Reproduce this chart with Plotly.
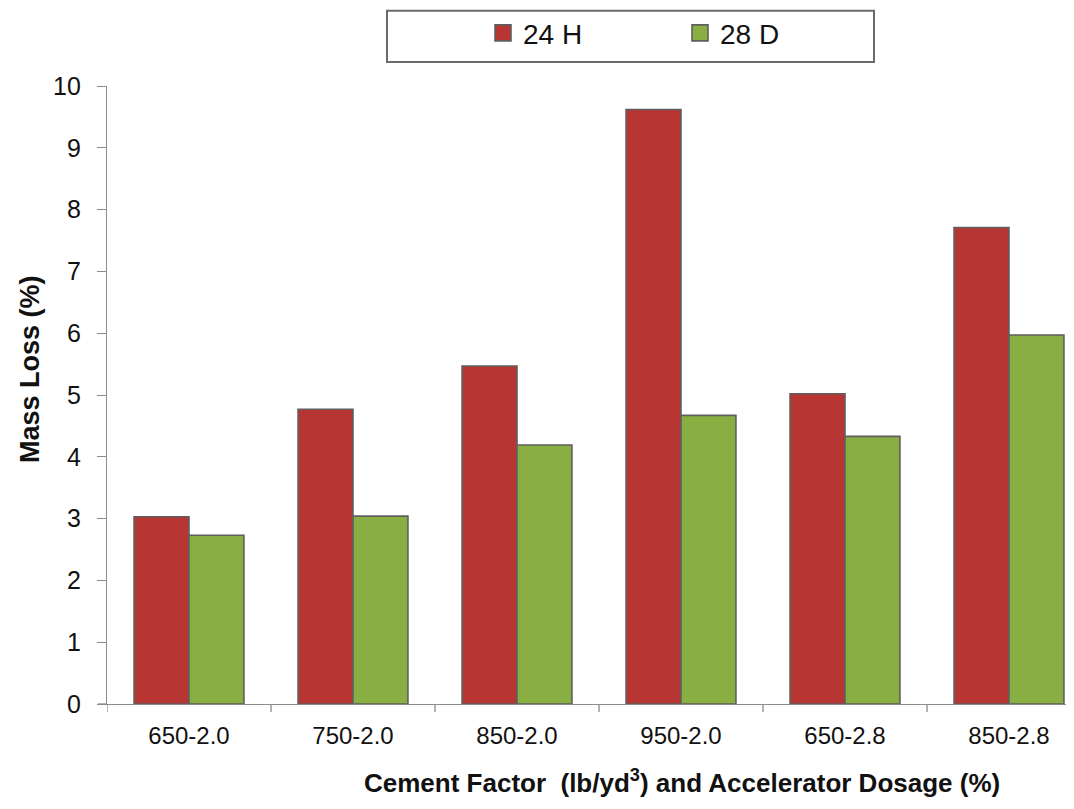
import plotly.graph_objects as go

categories = ["650-2.0", "750-2.0", "850-2.0", "950-2.0", "650-2.8", "850-2.8"]
series_names = ["24 H", "28 D"]
values_24h = [3.03, 4.77, 5.47, 9.62, 5.02, 7.71]
values_28d = [2.73, 3.04, 4.19, 4.67, 4.33, 5.97]
y_ticks = [0, 1, 2, 3, 4, 5, 6, 7, 8, 9, 10]

RED = "#B73533"
GREEN = "#89AE41"
EDGE = "#5f5f5f"
AXIS = "#8c8c8c"

# page body has an 8px margin, so the figure is drawn 8px in from the window corner
OFF = 8
W, H = 1066, 793
ML, MR, MT, MB = 99, 0, 76, 97
pw = W - ML - MR
ph = H - MT - MB

FONT = "Liberation Sans Narrow, Arial Narrow, Liberation Sans, Arial, sans-serif"

def fx(screen_px):
    return (screen_px - OFF - ML) / pw

def fy(screen_py):
    return 1 - (screen_py - OFF - MT) / ph

fig = go.Figure()
fig.add_trace(go.Bar(
    x=categories, y=values_24h, name=series_names[0], showlegend=False,
    marker=dict(color=RED, line=dict(color=EDGE, width=1.6)),
))
fig.add_trace(go.Bar(
    x=categories, y=values_28d, name=series_names[1], showlegend=False,
    marker=dict(color=GREEN, line=dict(color=EDGE, width=1.6)),
))
# legend-only entries (bigger square swatches like the reference)
for nm, col in zip(series_names, [RED, GREEN]):
    fig.add_trace(go.Scatter(
        x=[None], y=[None], mode="markers", name=nm,
        marker=dict(symbol="square", size=16, color=col, line=dict(color=EDGE, width=1.6)),
    ))

band = 164.0
x_range = [-0.5, -0.5 + pw / band]

fig.update_layout(
    width=W, height=H,
    margin=dict(l=ML, r=MR, t=MT, b=MB),
    paper_bgcolor="white", plot_bgcolor="white",
    barmode="group", bargap=0.33, bargroupgap=0.0,
    font=dict(family=FONT, color="#111111"),
    showlegend=True,
    legend=dict(
        orientation="h", x=fx(483), xanchor="left",
        y=fy(31), yanchor="middle",
        font=dict(size=28, family=FONT, color="#111111"),
        entrywidth=152, entrywidthmode="pixels",
        itemsizing="trace",
        bgcolor="rgba(0,0,0,0)", borderwidth=0,
        traceorder="normal",
    ),
    xaxis=dict(
        type="category", categoryorder="array", categoryarray=categories,
        range=x_range, showline=True, linecolor=AXIS, linewidth=1.3,
        ticks="", showgrid=False, zeroline=False,
        tickfont=dict(size=24, family=FONT, color="#111111"),
        ticklabelstandoff=10,
    ),
    yaxis=dict(
        range=[0, 10], tickvals=y_ticks, showline=True, linecolor=AXIS,
        linewidth=1.3, ticks="outside", ticklen=9, tickcolor=AXIS,
        showgrid=False, zeroline=False,
        tickfont=dict(size=25, family=FONT, color="#111111"),
        ticklabelstandoff=11,
    ),
)

# band separator ticks below the x axis
for i in range(len(categories)):
    fig.add_shape(type="line", xref="x", yref="paper",
                  x0=i - 0.5, x1=i - 0.5, y0=0, y1=-8 / ph,
                  line=dict(color=AXIS, width=1.3))
# short stub of the x axis to the left of the y axis
fig.add_shape(type="line", xref="paper", yref="paper",
              x0=fx(98), x1=0, y0=0, y1=0,
              line=dict(color=AXIS, width=1.3))

# legend frame
fig.add_shape(type="rect", xref="paper", yref="paper",
              x0=fx(387), x1=fx(874), y0=fy(60), y1=fy(8.5),
              line=dict(color="#6a6a6a", width=2), fillcolor="rgba(0,0,0,0)")

# y-axis title
fig.add_annotation(text="<b>Mass Loss (%)</b>", textangle=-90,
                   xref="paper", yref="paper", x=fx(30), y=fy(368),
                   xanchor="center", yanchor="middle", showarrow=False,
                   font=dict(size=27, family=FONT, color="#111111"))

# x-axis title
fig.add_annotation(text="<b>Cement Factor  (lb/yd<sup>3</sup>) and Accelerator Dosage (%)</b>",
                   xref="paper", yref="paper", x=fx(682), y=fy(782),
                   xanchor="center", yanchor="middle", showarrow=False,
                   font=dict(size=26, family=FONT, color="#111111"))

fig.write_html("out.html")
